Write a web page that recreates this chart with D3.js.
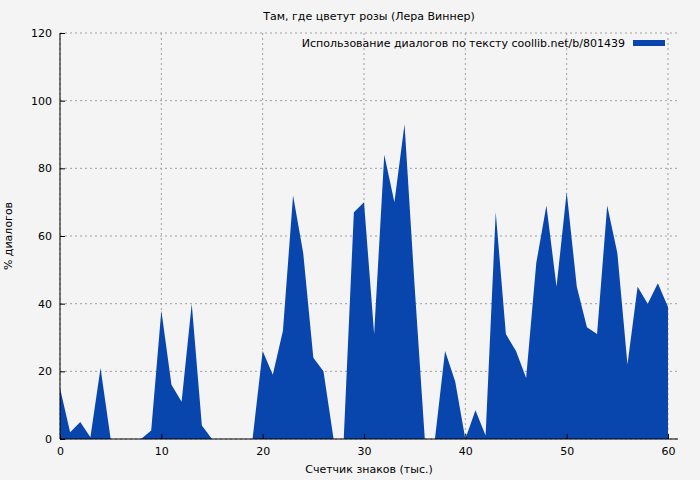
<!DOCTYPE html><html><head><meta charset="utf-8"><script src="https://cdn.jsdelivr.net/npm/d3@7"></script>
<style>body{margin:0;background:#f4f4f4}text{font-family:"DejaVu Sans",sans-serif;font-size:11px;fill:#000}</style></head><body><svg width="700" height="480"></svg><script>
const xValues=d3.range(0,61);
const values=[15,2,5,0.5,21,0,0,0,0,2.5,38,16,11,40,4,0,0,0,0,0,26,19,32,72,55,24,20,0,0,67,70,31,84,70,93,45,0,0,26,17,0,8.5,1,67,31,26,18,52,69,45,73,45,33,31,69,55,22,45,40,46,39];
const xTicks=[0,10,20,30,40,50,60], yTicks=[0,20,40,60,80,100,120];
const svg=d3.select("svg");
const m={l:60,r:32,t:33,b:41};
const x=d3.scaleLinear().domain([0,61]).range([m.l,700-m.r+10]);
const x2=d3.scaleLinear().domain([0,60]).range([60,668]);
const y=d3.scaleLinear().domain([0,120]).range([439,33]);
const W=678;
svg.append("rect").attr("width",700).attr("height",480).attr("fill","#f4f4f4");
const g=svg.append("g");
xTicks.forEach(t=>g.append("line").attr("x1",x2(t)).attr("x2",x2(t)).attr("y1",33).attr("y2",439).attr("stroke","#a0a0a0").attr("stroke-dasharray","2,3"));
yTicks.forEach(t=>g.append("line").attr("x1",60).attr("x2",W).attr("y1",y(t)).attr("y2",y(t)).attr("stroke","#a0a0a0").attr("stroke-dasharray","2,3"));
const area=d3.area().x((d,i)=>x2(xValues[i])).y0(y(0)).y1(d=>y(d));
svg.append("path").datum(values).attr("d",area).attr("fill","#0846ad");
svg.append("g").attr("transform","translate(0,439)").call(d3.axisBottom(x2).tickValues(xTicks).tickSize(-5).tickPadding(8)).call(a=>{a.select(".domain").attr("d","M60,0H"+W)});
svg.append("g").attr("transform","translate(60,0)").call(d3.axisLeft(y).tickValues(yTicks).tickSize(-5).tickPadding(8)).call(a=>{a.select(".domain").attr("d","M0,33V439")});
svg.selectAll(".tick text").style("font-family","DejaVu Sans").style("font-size","11px");
svg.append("text").attr("x",369).attr("y",20).attr("text-anchor","middle").text("Там, где цветут розы (Лера Виннер)");
svg.append("text").attr("x",369).attr("y",473).attr("text-anchor","middle").text("Счетчик знаков (тыс.)");
svg.append("text").attr("transform","translate(12,236) rotate(-90)").attr("text-anchor","middle").text("% диалогов");
svg.append("text").attr("x",625).attr("y",47).attr("text-anchor","end").text("Использование диалогов по тексту coollib.net/b/801439");
svg.append("rect").attr("x",633).attr("y",40).attr("width",32).attr("height",6).attr("fill","#0846ad");
</script></body></html>
